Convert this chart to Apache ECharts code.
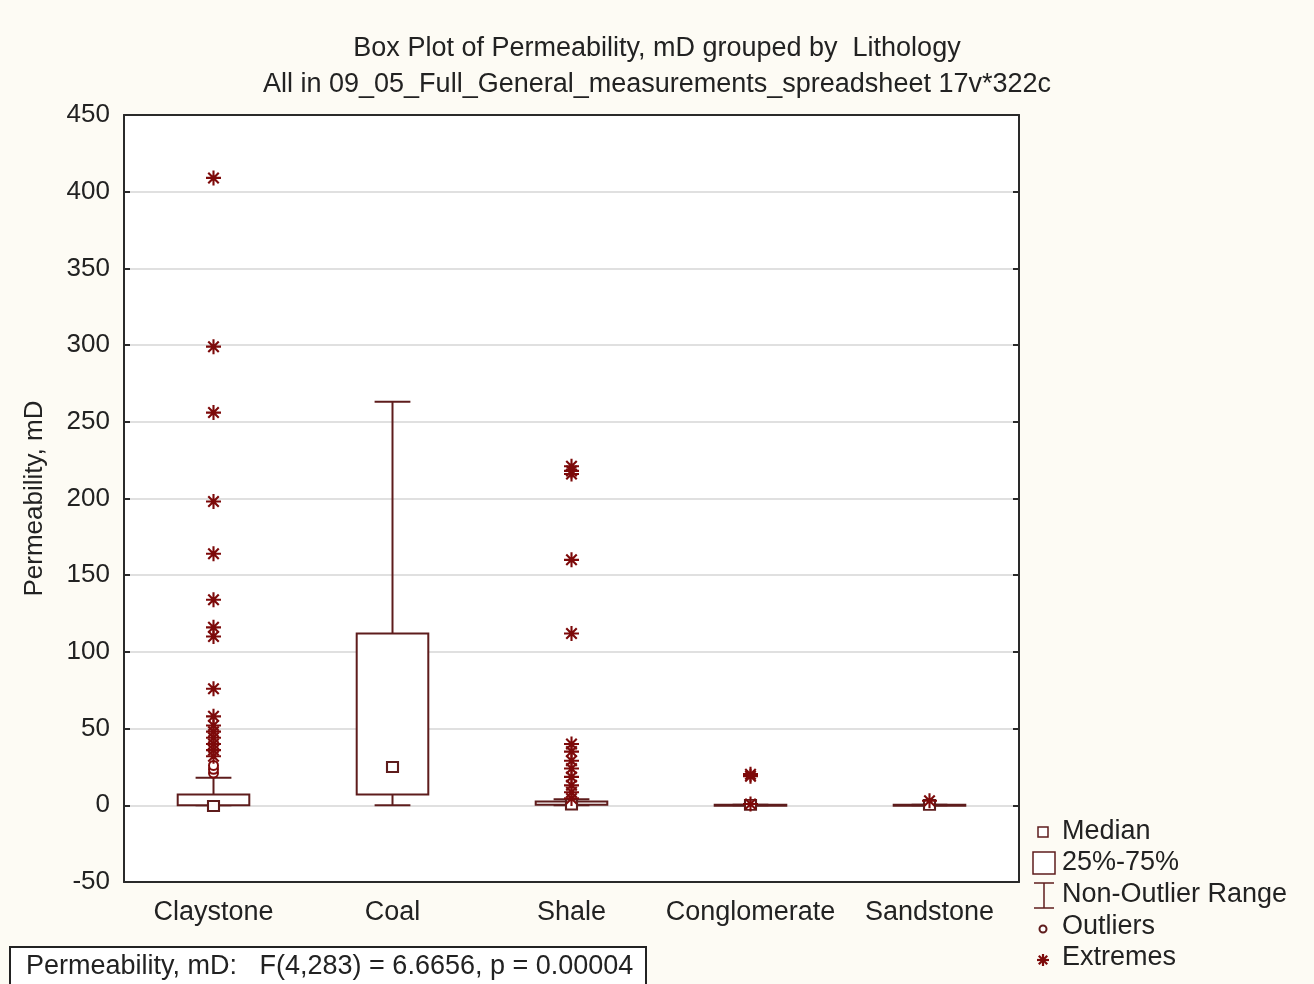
<!DOCTYPE html>
<html>
<head>
<meta charset="utf-8">
<script src="https://cdn.jsdelivr.net/npm/echarts@6/dist/echarts.min.js"></script>
<style>
  html, body { margin: 0; padding: 0; background: #fdfbf4; }
  #chart { width: 1314px; height: 984px; }
</style>
</head>
<body>
<div id="chart"></div>
<script>
// Permeability (mD) by lithology: box statistics per category
const categories = ['Claystone', 'Coal', 'Shale', 'Conglomerate', 'Sandstone'];
const whiskerLow = [0, 0, 0, 0, 0];
const lowerQuartile = [0.1, 7, 0.4, 0, 0];
const medians = [-0.5, 25, 0.5, 0.3, 0.3];
const upperQuartile = [7, 112, 2.5, 0.3, 0.3];
const whiskerHigh = [18, 263, 4, 0.4, 0.4];

// Outliers and extremes per category
const outlierValues = [
  [21, 23.5, 26],
  [],
  [],
  [],
  []
];
const extremeValues = [
  [32, 36, 40, 44, 48, 52, 58, 76, 110, 116, 134, 164, 198, 256, 299, 409],
  [],
  [4.5, 8.5, 13, 18.5, 24, 29, 35, 40, 112, 160, 216, 218, 221],
  [0.8, 19, 20.3],
  [3]
];

// Value axis range
const yMin = -50;
const yMax = 450;
const yStep = 50;

const statsText = 'Permeability, mD:   F(4,283) = 6.6656, p = 0.00004';

const FONT = 'Liberation Sans, Arial, sans-serif';
const LINE = '#5e1c1c';
const MARK = '#7d0a0a';
const AXIS = '#2a2a2a';
const TEXT = '#222222';

// Asterisk symbol: four bars through the centre, same winding so the overlaps stay filled
const STAR = 'path://M8.6 0L11.4 0L11.4 20L8.6 20Z M0 8.6L20 8.6L20 11.4L0 11.4Z ' +
  'M2 4L4 2L18 16L16 18Z M16 2L18 4L4 18L2 16Z';

const boxData = categories.map((c, i) => [i, whiskerLow[i], lowerQuartile[i], upperQuartile[i], whiskerHigh[i]]);
const medianData = medians.map((v, i) => [i, v]);
const outlierData = [];
outlierValues.forEach((arr, i) => arr.forEach(v => outlierData.push([i, v])));
const extremeData = [];
extremeValues.forEach((arr, i) => arr.forEach(v => extremeData.push([i, v])));

function renderBox(params, api) {
  const i = api.value(0);
  const lo = api.coord([i, api.value(1)]);
  const q1 = api.coord([i, api.value(2)]);
  const q3 = api.coord([i, api.value(3)]);
  const hi = api.coord([i, api.value(4)]);
  const band = api.size([1, 0])[0];
  const halfBox = band * 0.2;
  const halfCap = band * 0.1;
  const x = lo[0];
  const st = { stroke: LINE, lineWidth: 2, fill: null };
  return {
    type: 'group',
    children: [
      { type: 'line', shape: { x1: x, y1: q1[1], x2: x, y2: lo[1] }, style: st },
      { type: 'line', shape: { x1: x - halfCap, y1: lo[1], x2: x + halfCap, y2: lo[1] }, style: st },
      { type: 'line', shape: { x1: x, y1: q3[1], x2: x, y2: hi[1] }, style: st },
      { type: 'line', shape: { x1: x - halfCap, y1: hi[1], x2: x + halfCap, y2: hi[1] }, style: st },
      { type: 'rect', shape: { x: x - halfBox, y: q3[1], width: halfBox * 2, height: Math.max(q1[1] - q3[1], 1) },
        style: { stroke: LINE, lineWidth: 2, fill: '#ffffff' } }
    ]
  };
}

// Legend star drawn from four short strokes
function legendStar(cx, cy, r) {
  const d = r * 0.707;
  const st = { stroke: MARK, lineWidth: 2.2 };
  return [
    { type: 'line', shape: { x1: cx, y1: cy - r, x2: cx, y2: cy + r }, style: st },
    { type: 'line', shape: { x1: cx - r, y1: cy, x2: cx + r, y2: cy }, style: st },
    { type: 'line', shape: { x1: cx - d, y1: cy - d, x2: cx + d, y2: cy + d }, style: st },
    { type: 'line', shape: { x1: cx + d, y1: cy - d, x2: cx - d, y2: cy + d }, style: st }
  ];
}

const legendX = 1043;
const legendTextX = 1062;
const legendRows = [832, 863, 895, 927, 958];
const legendFont = { fontFamily: FONT, fontSize: 27, fill: TEXT, textVerticalAlign: 'middle' };

const chart = echarts.init(document.getElementById('chart'));
chart.setOption({
  backgroundColor: '#fdfbf4',
  animation: false,
  title: {
    text: 'Box Plot of Permeability, mD grouped by  Lithology\nAll in 09_05_Full_General_measurements_spreadsheet 17v*322c',
    left: 'center',
    top: 26,
    textStyle: { fontFamily: FONT, fontSize: 27, fontWeight: 'normal', color: TEXT, lineHeight: 36 }
  },
  grid: {
    left: 124, right: 295, top: 115, bottom: 102,
    show: true, backgroundColor: '#ffffff', borderWidth: 0
  },
  xAxis: [
    {
      type: 'category', data: categories, position: 'bottom',
      axisLine: { onZero: false, lineStyle: { color: AXIS, width: 2 } },
      axisTick: { inside: true, alignWithLabel: true, length: 6, lineStyle: { color: AXIS, width: 2 } },
      axisLabel: { interval: 0, fontFamily: FONT, fontSize: 27, color: TEXT, margin: 17 },
      splitLine: { show: false }
    },
    {
      type: 'category', data: categories, position: 'top',
      axisLine: { onZero: false, lineStyle: { color: AXIS, width: 2 } },
      axisTick: { inside: true, alignWithLabel: true, length: 6, lineStyle: { color: AXIS, width: 2 } },
      axisLabel: { show: false },
      splitLine: { show: false }
    }
  ],
  yAxis: [
    {
      type: 'value', min: yMin, max: yMax, interval: yStep, position: 'left',
      name: 'Permeability, mD', nameLocation: 'middle', nameGap: 76,
      nameTextStyle: { fontFamily: FONT, fontSize: 26, color: TEXT },
      axisLine: { show: true, onZero: false, lineStyle: { color: AXIS, width: 2 } },
      axisTick: { show: true, inside: true, length: 6, lineStyle: { color: AXIS, width: 2 } },
      axisLabel: { fontFamily: FONT, fontSize: 26, color: TEXT, margin: 14 },
      splitLine: { show: true, lineStyle: { color: '#d6d6d6', width: 1.5 } }
    },
    {
      type: 'value', min: yMin, max: yMax, interval: yStep, position: 'right',
      axisLine: { show: true, onZero: false, lineStyle: { color: AXIS, width: 2 } },
      axisTick: { show: true, inside: true, length: 6, lineStyle: { color: AXIS, width: 2 } },
      axisLabel: { show: false },
      splitLine: { show: false }
    }
  ],
  series: [
    {
      name: 'Non-Outlier Range', type: 'custom', renderItem: renderBox,
      data: boxData, encode: { x: 0, y: [1, 2, 3, 4] }, z: 3
    },
    {
      name: 'Median', type: 'scatter', data: medianData, symbol: 'rect', symbolSize: [11, 10],
      itemStyle: { color: '#ffffff', borderColor: LINE, borderWidth: 2, opacity: 1 }, z: 4
    },
    {
      name: 'Outliers', type: 'scatter', data: outlierData, symbol: 'circle', symbolSize: 9,
      itemStyle: { color: '#ffffff', borderColor: MARK, borderWidth: 2, opacity: 1 }, z: 5
    },
    {
      name: 'Extremes', type: 'scatter', data: extremeData, symbol: STAR, symbolSize: 15,
      itemStyle: { color: MARK, opacity: 1 }, z: 6
    }
  ],
  graphic: [
    // legend
    { type: 'rect', shape: { x: legendX - 5, y: legendRows[0] - 5, width: 10, height: 10 },
      style: { fill: '#fff', stroke: LINE, lineWidth: 1.5 } },
    { type: 'text', x: legendTextX, y: legendRows[0], style: Object.assign({ text: 'Median' }, legendFont) },
    { type: 'rect', shape: { x: 1033, y: legendRows[1] - 11, width: 22, height: 22 },
      style: { fill: '#fff', stroke: LINE, lineWidth: 1.5 } },
    { type: 'text', x: legendTextX, y: legendRows[1], style: Object.assign({ text: '25%-75%' }, legendFont) },
    { type: 'line', shape: { x1: 1034, y1: 883, x2: 1054, y2: 883 }, style: { stroke: LINE, lineWidth: 1.5 } },
    { type: 'line', shape: { x1: 1044, y1: 883, x2: 1044, y2: 908 }, style: { stroke: LINE, lineWidth: 1.5 } },
    { type: 'line', shape: { x1: 1034, y1: 908, x2: 1054, y2: 908 }, style: { stroke: LINE, lineWidth: 1.5 } },
    { type: 'text', x: legendTextX, y: legendRows[2], style: Object.assign({ text: 'Non-Outlier Range' }, legendFont) },
    { type: 'circle', shape: { cx: legendX, cy: legendRows[3] + 2, r: 3.5 },
      style: { fill: '#fff', stroke: LINE, lineWidth: 2 } },
    { type: 'text', x: legendTextX, y: legendRows[3], style: Object.assign({ text: 'Outliers' }, legendFont) }
  ].concat(legendStar(legendX, legendRows[4] + 2, 6)).concat([
    { type: 'text', x: legendTextX, y: legendRows[4], style: Object.assign({ text: 'Extremes' }, legendFont) },
    // statistics box
    { type: 'rect', shape: { x: 10, y: 947, width: 636, height: 42 },
      style: { fill: '#ffffff', stroke: '#222', lineWidth: 2 } },
    { type: 'text', x: 26, y: 967, style: { text: statsText, fontFamily: FONT, fontSize: 27, fill: TEXT, textVerticalAlign: 'middle' } }
  ])
});
</script>
</body>
</html>
